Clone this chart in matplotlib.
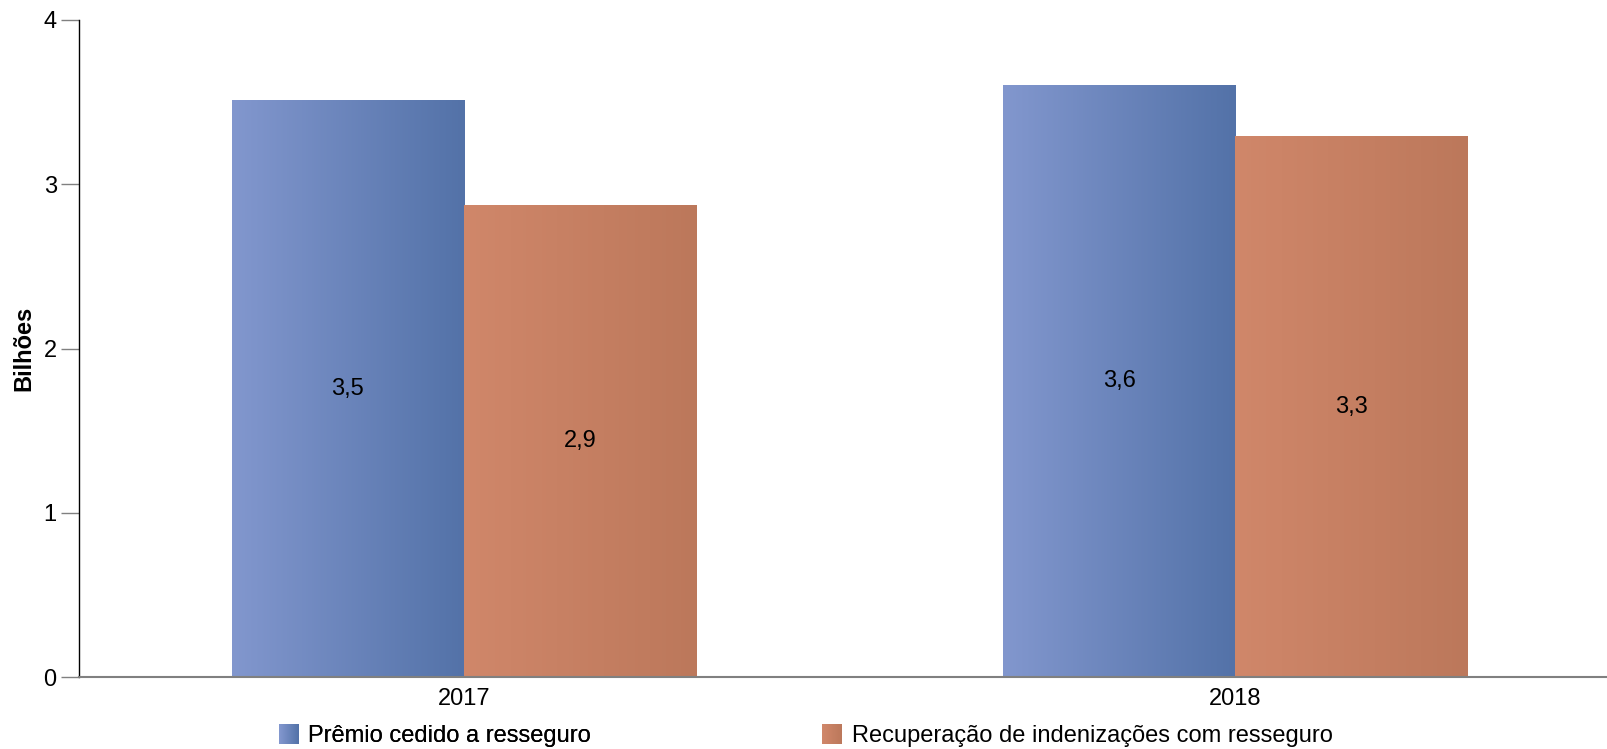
import matplotlib
matplotlib.use("Agg")
import matplotlib.pyplot as plt
import numpy as np
from matplotlib.colors import LinearSegmentedColormap
from matplotlib.legend_handler import HandlerBase
from matplotlib.patches import Rectangle

plt.rcParams['font.family'] = ['Liberation Sans', 'DejaVu Sans']

categories = ["2017", "2018"]
premio = [3.51, 3.60]
recuperacao = [2.87, 3.29]
premio_labels = ["3,5", "3,6"]
recuperacao_labels = ["2,9", "3,3"]
series_names = ["Prêmio cedido a resseguro", "Recuperação de indenizações com resseguro"]

blue_cmap = LinearSegmentedColormap.from_list("b", ["#8297CE", "#5372A8"])
orange_cmap = LinearSegmentedColormap.from_list("o", ["#D0876A", "#BC785B"])

FS = 17

fig = plt.figure(figsize=(16.08, 7.49), dpi=100)
ax = fig.add_axes([0.0491, 0.0961, 0.9503, 0.8772])

x = np.arange(len(categories))
w = 0.301
bars1 = ax.bar(x - w / 2, premio, w, color="none", edgecolor="none")
bars2 = ax.bar(x + w / 2, recuperacao, w, color="none", edgecolor="none")

grad = np.linspace(0, 1, 256).reshape(1, -1)
for bars, cmap in ((bars1, blue_cmap), (bars2, orange_cmap)):
    for b in bars:
        x0, y0 = b.get_x(), b.get_y()
        ax.imshow(grad, cmap=cmap, aspect="auto",
                  extent=(x0, x0 + b.get_width(), y0, y0 + b.get_height()),
                  zorder=2, interpolation="bilinear")

for bars, labels in ((bars1, premio_labels), (bars2, recuperacao_labels)):
    for b, lab in zip(bars, labels):
        ax.text(b.get_x() + b.get_width() / 2, b.get_height() / 2, lab,
                ha="center", va="center", fontsize=FS, color="black", zorder=3)

ax.set_xlim(-0.499, 1.482)
ax.set_ylim(0, 4)
ax.set_yticks([0, 1, 2, 3, 4])
ax.set_yticklabels(["0", "1", "2", "3", "4"])
ax.set_xticks(x)
ax.set_xticklabels(categories)
ax.tick_params(axis="y", length=13, width=1, color="#808080", labelsize=FS, pad=3)
ax.tick_params(axis="x", length=0, labelsize=FS, pad=8)
ax.spines["top"].set_visible(False)
ax.spines["right"].set_visible(False)
ax.spines["left"].set_color("black")
ax.spines["left"].set_linewidth(1)
ax.spines["bottom"].set_color("#808080")
ax.spines["bottom"].set_linewidth(1.5)
ax.spines["bottom"].set_zorder(4)
ax.set_ylabel("Bilhões", fontsize=FS, fontweight="bold")
ax.yaxis.set_label_coords(-0.0285, 0.5)


class GradHandler(HandlerBase):
    def __init__(self, cmap):
        super().__init__()
        self.cmap = cmap

    def create_artists(self, legend, orig_handle, xdescent, ydescent, width,
                       height, fontsize, trans):
        n = 20
        side = height * 1.2
        y0 = -ydescent + (height - side) / 2
        x0 = -xdescent + width - side
        arts = []
        for i in range(n):
            r = Rectangle((x0 + side * i / n, y0), side / n + 0.3, side,
                          facecolor=self.cmap(i / (n - 1)), edgecolor="none",
                          transform=trans)
            arts.append(r)
        return arts


h1 = Rectangle((0, 0), 1, 1)
h2 = Rectangle((0, 0), 1, 1)
leg1 = fig.legend([h1], [series_names[0]], handler_map={h1: GradHandler(blue_cmap)},
                  loc="center left", bbox_to_anchor=(0.171, 0.0167), frameon=False,
                  fontsize=FS, handlelength=1.0, handletextpad=0.4,
                  borderpad=0, borderaxespad=0)
leg2 = fig.legend([h2], [series_names[1]], handler_map={h2: GradHandler(orange_cmap)},
                  loc="center left", bbox_to_anchor=(0.509, 0.0167), frameon=False,
                  fontsize=FS, handlelength=1.0, handletextpad=0.4,
                  borderpad=0, borderaxespad=0)
fig.add_artist(leg1)

fig.savefig("out.png", dpi=100)
